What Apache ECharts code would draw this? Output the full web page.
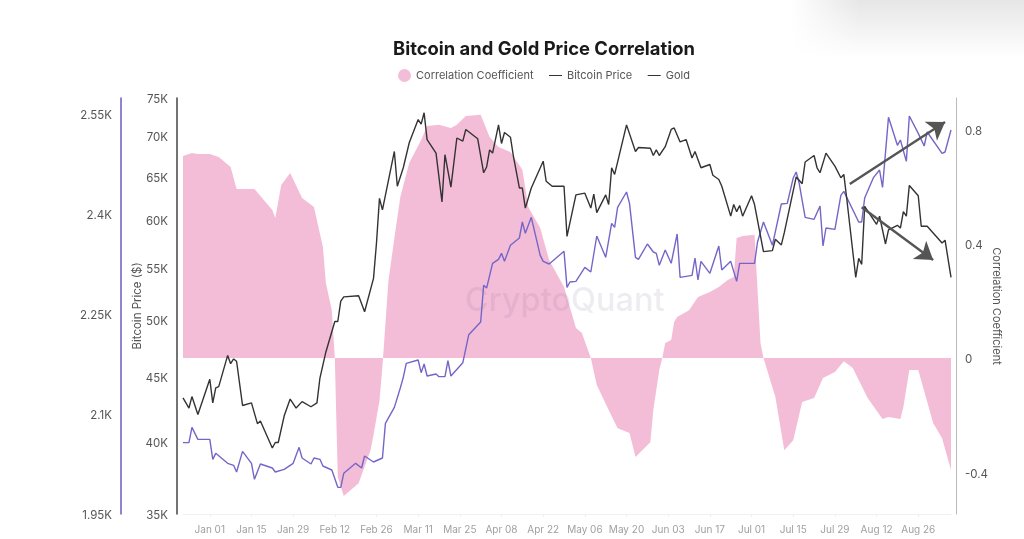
<!DOCTYPE html>
<html>
<head>
<meta charset="utf-8">
<style>
  html, body { margin: 0; padding: 0; background: #fff; }
  #chart { width: 1024px; height: 539px; }
</style>
<script src="https://cdn.jsdelivr.net/npm/echarts@6/dist/echarts.min.js"></script>
</head>
<body>
<div id="chart"></div>
<script>
// x axis is a plain value axis: all the *Days arrays count days from 23 Dec 2023
const btcDays = [0,2,3,5,9,10,11,12,15,16,17,18,20,23,25,26,30,31,32,34,36,38,40,43,45,46,48,51,52,53,54,59,61,64,65,66,67,71,72,74,76,79,80,81,82,85,87,88,90,92,94,95,99,101,102,103,104,106,107,108,110,111,113,114,115,117,121,122,124,128,129,132,135,137,138,139,142,143,144,145,149,152,153,157,158,159,160,162,164,165,167,169,171,172,174,177,178,180,181,184,185,186,187,188,191,192,195,198,199,201,202,206,208,209,212,213,214,216,219,221,222,223,226,227,228,229,233,234,236,237,240,241,242,243,244,247,248,250,255,256,258];
const btcPrices = [43300,42500,43400,42000,44800,42900,44100,44200,46800,46100,46500,46300,42700,42900,41300,41500,39500,39900,39900,41900,43200,42500,43000,42600,42900,44900,47100,49800,49800,51700,52100,52200,50700,53900,57500,62400,61100,68000,63800,66000,69100,72100,71500,73000,69500,67800,62000,67600,63700,69700,69300,70800,69600,65400,66100,68200,67800,71400,69000,70400,69800,67400,63600,63600,61300,63600,66800,64400,63800,63800,58200,62800,63000,61300,62900,60800,62800,61700,66000,65200,71400,68000,68500,68400,67500,68200,67500,68600,70800,71000,69200,69500,67200,68000,66000,66400,65100,64600,63800,60400,61700,60900,61600,60400,62700,61700,56600,56700,57900,57300,58600,64900,64100,66700,67500,66000,65400,67800,66200,64800,65200,62300,54000,55900,55300,61500,59500,60400,57400,58900,59400,59100,60900,60400,63900,62700,59300,59300,57500,57800,54000];

const goldDays = [0,2,3,5,9,10,11,15,17,18,20,23,24,26,30,31,34,37,39,40,43,44,46,47,50,52,53,54,58,60,61,64,67,68,71,73,74,75,79,80,81,82,85,86,88,89,90,94,96,100,101,102,104,106,107,108,110,113,114,115,117,120,121,123,128,129,130,132,135,137,139,142,144,145,146,149,150,152,153,156,158,159,160,162,164,166,167,171,172,173,174,177,180,181,184,186,187,192,193,195,198,201,203,205,206,207,209,212,214,215,216,219,221,222,227,228,229,232,234,235,237,240,241,243,244,247,249,250,255,256,258];
const goldPrices = [2057,2057,2080,2062,2062,2032,2041,2026,2023,2013,2044,2026,2002,2025,2019,2013,2017,2026,2050,2034,2025,2034,2032,2022,2016,1990,1990,2011,2026,2019,2037,2028,2034,2086,2110,2139,2155,2176,2181,2162,2175,2157,2160,2156,2156,2180,2157,2177,2219,2238,2293,2289,2326,2332,2341,2329,2353,2364,2388,2371,2395,2338,2329,2325,2344,2290,2298,2299,2320,2313,2367,2335,2386,2380,2410,2433,2416,2335,2332,2355,2343,2341,2323,2346,2326,2370,2305,2308,2334,2301,2329,2311,2352,2316,2329,2299,2326,2326,2358,2388,2353,2415,2416,2454,2463,2446,2395,2392,2412,2352,2379,2377,2428,2434,2388,2388,2424,2455,2466,2440,2545,2503,2511,2479,2547,2521,2502,2523,2491,2493,2526];

const corrDays = [0,3,5,9,12,16,18,24,30,31,33,36,40,44,47,48,50,51,52,54,59,63,64,66,67,68,69,71,73,76,80,82,86,90,92,95,100,103,106,110,114,116,120,123,128,132,134,137,139,143,146,150,152,157,158,160,161,162,164,165,166,170,173,177,180,183,185,186,188,192,194,195,199,202,205,208,212,215,219,222,225,230,235,237,241,242,244,247,252,255,258];
const corrValues = [0.709,0.719,0.716,0.716,0.705,0.67,0.593,0.593,0.519,0.491,0.607,0.649,0.561,0.53,0.389,0.263,0.168,0,-0.418,-0.484,-0.439,-0.323,-0.27,-0.15,-0.03,0.12,0.27,0.42,0.565,0.684,0.765,0.814,0.818,0.807,0.818,0.849,0.853,0.775,0.74,0.723,0.66,0.53,0.456,0.344,0.249,0.105,0.088,0,-0.095,-0.182,-0.246,-0.263,-0.347,-0.295,-0.182,-0.042,0,0.053,0.063,0.126,0.144,0.168,0.214,0.232,0.249,0.274,0.284,0.421,0.428,0.432,0.053,0,-0.137,-0.323,-0.288,-0.154,-0.14,-0.07,-0.049,-0.011,-0.035,-0.14,-0.214,-0.207,-0.214,-0.172,-0.042,-0.042,-0.228,-0.281,-0.393];

const xTickDays = [9,23,37,51,65,79,93,107,121,135,149,163,177,191,205,219,233,247];
const xTickLabels = ['Jan 01','Jan 15','Jan 29','Feb 12','Feb 26','Mar 11','Mar 25','Apr 08','Apr 22','May 06','May 20','Jun 03','Jun 17','Jul 01','Jul 15','Jul 29','Aug 12','Aug 26'];
const btcTicks = [35000,40000,45000,50000,55000,60000,65000,70000,75000];
const goldTicks = [1950,2100,2250,2400,2550];
const corrTicks = [-0.4,0,0.4,0.8];

// the two hand drawn arrows, as [day, gold price]
const arrowUp = [[224,2445],[256,2538]];
const arrowDown = [[228,2410],[252,2331]];

const pairs = (days, vals) => days.map((d, i) => [d, vals[i]]);
const kLabel = (v) => (v / 1000) + 'K';
const font = 'Inter';
// small lineHeight + top align nudges the labels about 2px below the tick position
const yLabelStyle = { color: '#555', fontSize: 11.5, margin: 9, fontFamily: font, verticalAlign: 'top', lineHeight: 4 };

const chart = echarts.init(document.getElementById('chart'));
chart.setOption({
    animation: false,
    backgroundColor: '#fff',
    textStyle: { fontFamily: font },
    title: {
        text: 'Bitcoin and Gold Price Correlation',
        left: 539, top: 35, textAlign: 'center',
        textStyle: { fontSize: 18.4, fontWeight: 'bold', color: '#1a1a1a', fontFamily: font },
    },
    legend: {
        left: 393, top: 64, itemWidth: 13, itemHeight: 13, itemGap: 15,
        textStyle: { fontSize: 11, color: '#555', fontFamily: font },
        data: [
            { name: 'Correlation Coefficient', icon: 'circle' },
            { name: 'Bitcoin Price', lineStyle: { color: '#333', width: 1 }, itemStyle: { opacity: 0 } },
            { name: 'Gold', lineStyle: { color: '#333', width: 1 }, itemStyle: { opacity: 0 } },
        ],
    },
    grid: { left: 183, right: 73, top: 98, bottom: 25 },
    xAxis: {
        type: 'value',
        min: 0, max: 258,
        axisLine: { onZero: false, lineStyle: { color: '#f0f0f0' } },
        axisTick: { show: true, length: 3, customValues: xTickDays, lineStyle: { color: '#eee' } },
        axisLabel: {
            customValues: xTickDays,
            color: '#a0a0a0', fontSize: 10, margin: 11, fontFamily: font,
            formatter: (v) => xTickLabels[xTickDays.indexOf(v)],
        },
        splitLine: { show: false },
    },
    yAxis: [
        {
            type: 'log', min: 35000, max: 75000, position: 'left', offset: 6,
            name: 'Bitcoin Price ($)', nameLocation: 'middle', nameGap: 33, nameMoveOverlap: false,
            nameTextStyle: { fontSize: 11.5, color: '#555', fontFamily: font },
            axisLine: { show: true, onZero: false, lineStyle: { color: '#444', width: 1.5 } },
            axisTick: { show: false, customValues: btcTicks },
            axisLabel: { ...yLabelStyle, customValues: btcTicks, formatter: kLabel },
            splitLine: { show: false },
        },
        {
            type: 'value', min: 1950, max: 2574, position: 'left', offset: 62,
            axisLine: { show: true, onZero: false, lineStyle: { color: '#6a5cc4', width: 1.5 } },
            axisTick: { show: false, customValues: goldTicks },
            axisLabel: { ...yLabelStyle, customValues: goldTicks, formatter: kLabel },
            splitLine: { show: false },
        },
        {
            type: 'value', min: -0.547, max: 0.912, position: 'right', offset: 5,
            name: 'Correlation Coefficient', nameLocation: 'middle', nameGap: 35, nameRotate: -90, nameMoveOverlap: false,
            nameTextStyle: { fontSize: 11, color: '#555', fontFamily: font },
            axisLine: { show: true, onZero: false, lineStyle: { color: '#bbb', width: 1 } },
            axisTick: { show: false, customValues: corrTicks },
            axisLabel: { ...yLabelStyle, customValues: corrTicks },
            splitLine: { show: false },
        },
    ],
    series: [
        {
            name: 'Correlation Coefficient', type: 'line', yAxisIndex: 2, z: 1,
            data: pairs(corrDays, corrValues), symbol: 'none',
            itemStyle: { color: '#f4bdd7' },
            lineStyle: { width: 0 },
            areaStyle: { color: '#f4bdd7', opacity: 1, origin: 0 },
        },
        {
            name: 'Bitcoin Price', type: 'line', yAxisIndex: 0, z: 3,
            data: pairs(btcDays, btcPrices), symbol: 'none',
            itemStyle: { color: '#333' },
            lineStyle: { color: '#333', width: 1.4 },
        },
        {
            name: 'Gold', type: 'line', yAxisIndex: 1, z: 2,
            data: pairs(goldDays, goldPrices), symbol: 'none',
            itemStyle: { color: '#7466c8' },
            lineStyle: { color: '#7466c8', width: 1.4 },
            markLine: {
                silent: true, symbol: ['none', 'arrow'], symbolSize: 17, animation: false,
                lineStyle: { color: '#555', width: 2.4, type: 'solid' },
                label: { show: false },
                data: [arrowUp, arrowDown].map((a) => a.map((p) => ({ coord: p }))),
            },
        },
    ],
    graphic: [
        {
            type: 'rect', z: -1, silent: true,
            shape: { x: 790, y: 0, width: 234, height: 58 },
            style: { fill: new echarts.graphic.LinearGradient(0, 0, 0, 1, [{ offset: 0, color: '#e6e6e6' }, { offset: 1, color: '#ffffff' }]) },
        },
        {
            type: 'rect', z: -1, silent: true,
            shape: { x: 790, y: 0, width: 70, height: 58 },
            style: { fill: new echarts.graphic.LinearGradient(0, 0, 1, 0, [{ offset: 0, color: '#ffffff' }, { offset: 1, color: 'rgba(255,255,255,0)' }]) },
        },
        {
            type: 'text', z: 10, silent: true, left: 465, top: 285,
            style: { text: 'CryptoQuant', font: '500 32.5px Inter', fill: 'rgba(120,110,150,0.13)' },
        },
    ],
});
</script>
</body>
</html>
